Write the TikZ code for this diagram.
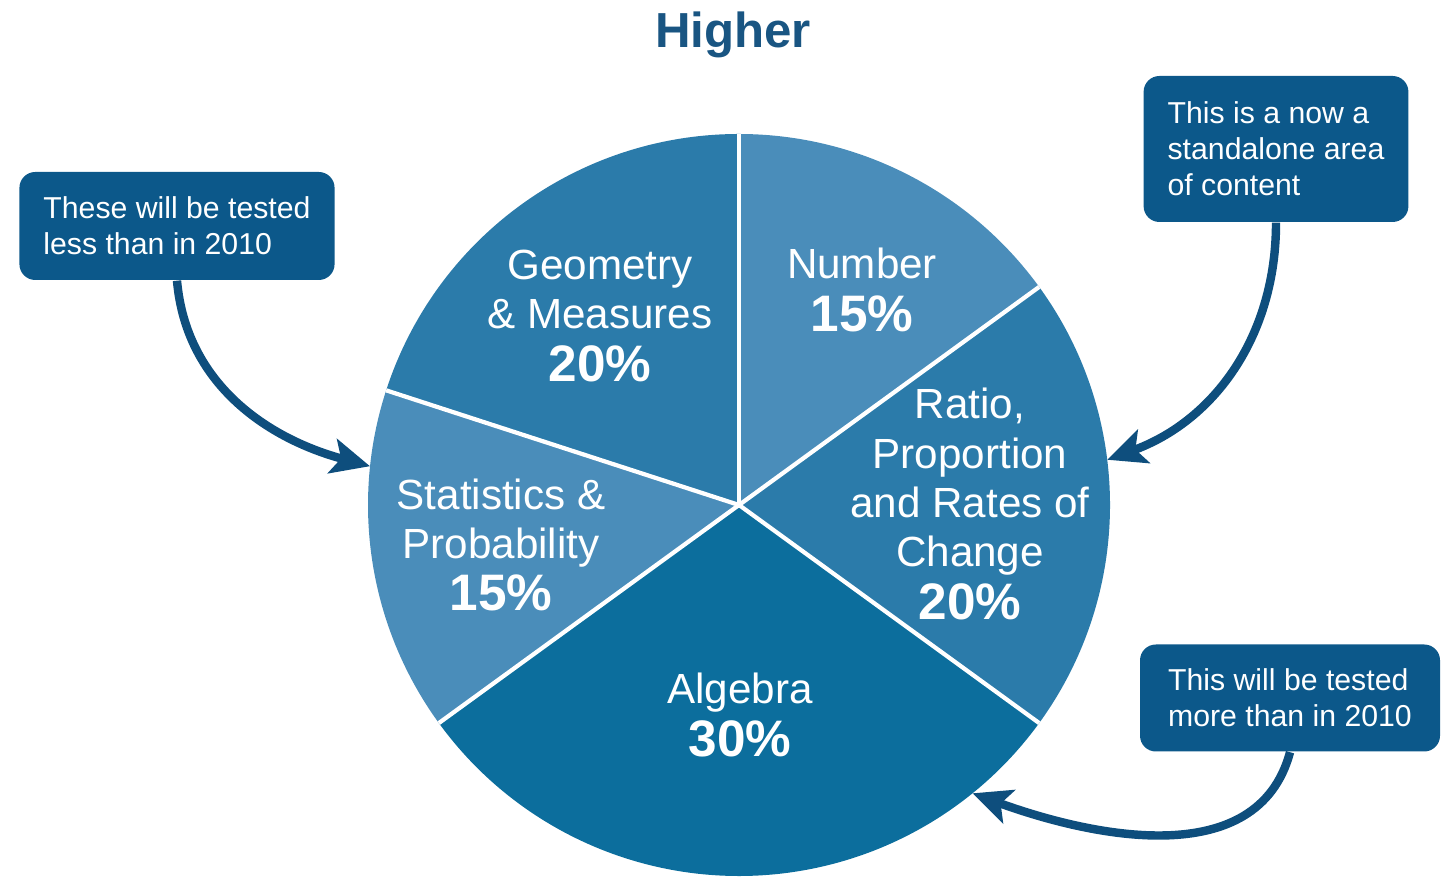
\documentclass[tikz,border=0pt]{standalone}
\usepackage{fontspec}
\setmainfont{Liberation Sans}
\usetikzlibrary{positioning, calc, arrows.meta}

\definecolor{titleblue}{RGB}{25,85,130}
\definecolor{boxblue}{RGB}{12,88,138}
\definecolor{arrowblue}{RGB}{14,78,125}
\definecolor{lightslice}{RGB}{74,141,186}
\definecolor{midslice}{RGB}{43,123,170}
\definecolor{darkslice}{RGB}{12,110,157}

\newcommand{\pct}[1]{\\[1pt]{\fontsize{14.6}{16}\selectfont\bfseries #1}}

\begin{document}
\begin{tikzpicture}[
  slicelabel/.style={text=white, align=center, font=\fontsize{12}{14}\selectfont},
  callout/.style={fill=boxblue, rounded corners=4.5pt, text=white, align=left, inner xsep=0.24cm, font=\fontsize{8.6}{10.3}\selectfont},
  pointer/.style={arrowblue, line width=2.4pt, -{Stealth[length=11pt,width=10pt,inset=2.5pt]}}
]
\useasboundingbox (0,0) rectangle (14.53,8.78);
\coordinate (c) at (7.39,3.73);
\def\pieR{3.71}
% slices
\foreach \a/\b/\col in {36/90/lightslice, -36/36/midslice, -144/-36/darkslice, 162/216/lightslice, 90/162/midslice}
  \fill[\col] (c) -- ($(c)+(\a:\pieR)$) arc[start angle=\a, end angle=\b, radius=\pieR] -- cycle;
\foreach \a in {90,36,-36,-144,162}
  \draw[white, line width=1.2pt] (c) -- ($(c)+(\a:\pieR)$);

\node[titleblue, font=\fontsize{14}{16}\selectfont\bfseries] (title) at (7.33,8.43) {Higher};

\node[slicelabel] (geom) at (6.00,5.62) {Geometry\\\& Measures\pct{20\%}};
\node[slicelabel] (number) at (8.62,5.88) {Number\pct{15\%}};
\node[slicelabel] (ratio) at (9.70,3.74) {Ratio,\\Proportion\\and Rates of\\Change\pct{20\%}};
\node[slicelabel] (stats) at (5.01,3.33) {Statistics \&\\Probability\pct{15\%}};
\node[slicelabel] (algebra) at (7.40,1.63) {Algebra\pct{30\%}};

% callouts
\node[callout, minimum height=1.08cm] (lessbox) at (1.77,6.52) {These will be tested\\less than in 2010};
\node[callout, minimum height=1.46cm] (newbox) at (12.76,7.29) {This is a now a\\standalone area\\of content};
\node[callout, minimum height=1.07cm, minimum width=3cm] (morebox) at (12.90,1.80) {This will be tested\\more than in 2010};

\coordinate (statsedge) at ($(c)+(174:\pieR)$);
\coordinate (ratioedge) at ($(c)+(7:\pieR)$);
\coordinate (algedge) at ($(c)+(-51:\pieR)$);

\draw[pointer] (lessbox.south) to[out=-85,in=165] (statsedge);
\draw[pointer] (newbox.south) to[out=-90,in=20] (ratioedge);
\draw[pointer] (morebox.south) to[out=-105,in=-20] (algedge);
\end{tikzpicture}
\end{document}
